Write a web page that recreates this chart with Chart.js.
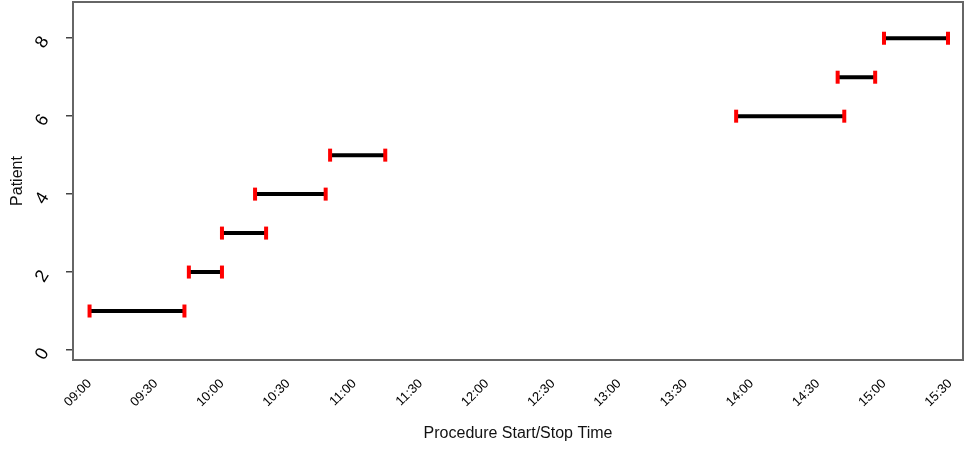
<!DOCTYPE html>
<html>
<head>
<meta charset="utf-8">
<script src="https://cdn.jsdelivr.net/npm/chart.js@4.4.1/dist/chart.umd.min.js"></script>
<style>
  html, body { margin: 0; padding: 0; background: #ffffff; }
  #wrap { width: 980px; height: 452px; }
</style>
</head>
<body>
<div id="wrap"><canvas id="procedure-chart" width="980" height="452"></canvas></div>
<script>
// Procedure data, one entry per patient
const patients = [1, 2, 3, 4, 5, 6, 7, 8]
const startTimes = ['09:00', '09:45', '10:00', '10:15', '10:49', '13:53', '14:39', '15:00']
const stopTimes  = ['09:43', '10:00', '10:20', '10:47', '11:14', '14:42', '14:56', '15:29']

// Axis ticks
const xTickLabels = ['09:00', '09:30', '10:00', '10:30', '11:00', '11:30', '12:00',
                     '12:30', '13:00', '13:30', '14:00', '14:30', '15:00', '15:30']
const yTickValues = [0, 2, 4, 6, 8]

// "HH:MM" -> minutes after midnight
function toMinutes(t) {
  const parts = t.split(':')
  return Number(parts[0]) * 60 + Number(parts[1])
}

const fontFamily = '"Liberation Sans", Arial, Helvetica, sans-serif'

// one small line dataset per patient: start point -> stop point
const datasets = patients.map((p, i) => ({
  data: [
    { x: toMinutes(startTimes[i]), y: p },
    { x: toMinutes(stopTimes[i]), y: p }
  ],
  borderColor: '#000000',
  borderWidth: 4,
  borderCapStyle: 'butt',
  pointStyle: 'line',
  pointRotation: 90,
  pointRadius: 6.5,
  pointHoverRadius: 6.5,
  pointBorderColor: '#ff0000',
  pointBorderWidth: 4,
  pointBackgroundColor: '#ff0000'
}))

// draws the box round the plot area
const frameBox = {
  id: 'frameBox',
  afterDraw(chart) {
    const { ctx, chartArea } = chart
    ctx.save()
    ctx.strokeStyle = '#666666'
    ctx.lineWidth = 2
    ctx.strokeRect(chartArea.left, chartArea.top,
                   chartArea.right - chartArea.left, chartArea.bottom - chartArea.top)
    ctx.restore()
  }
}

const chartCanvas = document.querySelector('#procedure-chart')

new Chart(chartCanvas, {
  type: 'line',
  data: { datasets: datasets },
  plugins: [frameBox],
  options: {
    responsive: false,
    animation: false,
    devicePixelRatio: 1,
    layout: { autoPadding: false, padding: { top: 2, right: 17, left: 0, bottom: 0 } },
    plugins: {
      legend: { display: false },
      tooltip: { enabled: false }
    },
    scales: {
      x: {
        type: 'linear',
        min: 532.5,
        max: 935.8,
        afterFit: (scale) => {
          scale.height = 92
          scale.paddingLeft = 0
          scale.paddingRight = 0
        },
        afterBuildTicks: (scale) => {
          scale.ticks = xTickLabels.map(t => ({ value: toMinutes(t) }))
        },
        grid: { display: false, drawTicks: false },
        border: { display: false },
        ticks: {
          autoSkip: false,
          minRotation: 45,
          maxRotation: 45,
          padding: 16,
          color: '#000000',
          font: { family: fontFamily, size: 13 },
          callback: (value, index) => xTickLabels[index]
        },
        title: {
          display: true,
          text: 'Procedure Start/Stop Time',
          color: '#111111',
          font: { family: fontFamily, size: 16 },
          padding: { top: 0, bottom: 9 }
        }
      },
      y: {
        type: 'linear',
        min: -0.257,
        max: 8.93,
        afterFit: (scale) => {
          scale.width = 73
          scale.paddingTop = 0
          scale.paddingBottom = 0
        },
        afterBuildTicks: (scale) => {
          scale.ticks = yTickValues.map(v => ({ value: v }))
        },
        grid: {
          drawOnChartArea: false,
          drawTicks: true,
          tickLength: 7,
          tickColor: '#444444',
          lineWidth: 1.5
        },
        border: { display: false },
        ticks: {
          minRotation: 58,
          maxRotation: 58,
          padding: 21,
          color: '#000000',
          font: { family: fontFamily, size: 18 }
        },
        title: {
          display: true,
          text: 'Patient',
          color: '#111111',
          font: { family: fontFamily, size: 16 },
          padding: { top: 8, bottom: 0 }
        }
      }
    }
  }
})
</script>
</body>
</html>
